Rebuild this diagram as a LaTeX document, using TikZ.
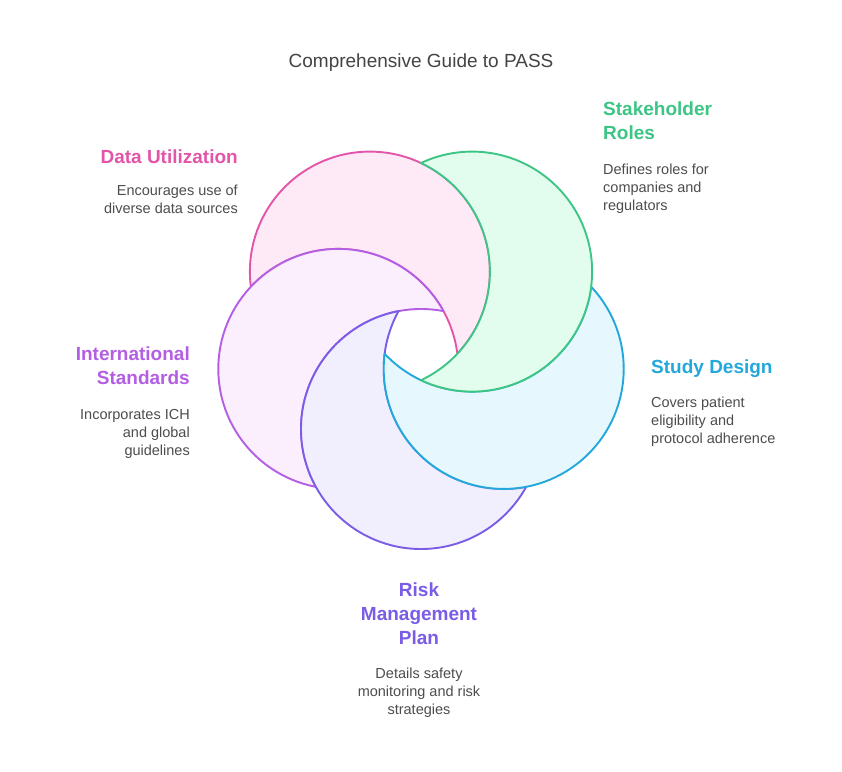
\documentclass[tikz,border=0pt]{standalone}
\usepackage{fontspec}
\setmainfont{Liberation Sans}
\definecolor{pinkline}{HTML}{E255A9}
\definecolor{pinkfill}{HTML}{FDEAF6}
\definecolor{greenline}{HTML}{3DC585}
\definecolor{greenfill}{HTML}{E2FCEE}
\definecolor{blueline}{HTML}{23A8DB}
\definecolor{bluefill}{HTML}{E6F7FD}
\definecolor{purpleline}{HTML}{7A5CE6}
\definecolor{purplefill}{HTML}{F1EFFD}
\definecolor{violetline}{HTML}{B45EE3}
\definecolor{violetfill}{HTML}{FBEEFD}
\definecolor{descgray}{HTML}{4D4D4D}
\definecolor{titlegray}{HTML}{444444}
% circle #1 minus circle #2, outlined in #3, filled with #4
\newcommand\drawcrescent[4]{%
  \begin{scope}[even odd rule]
    \clip (0,0) rectangle (842,771) (#2) circle[radius=120pt];
    \filldraw[fill=#4, draw=#3, line width=1.9pt] (#1) circle[radius=120pt];
  \end{scope}
  \begin{scope}
    \clip (#1) circle[radius=120pt];
    \draw[#3, line width=1.9pt] (#2) circle[radius=120pt];
  \end{scope}}
\begin{document}
\begin{tikzpicture}[x=1pt,y=-1pt,
    head/.style={inner sep=0pt, font=\fontsize{19}{24}\selectfont\bfseries},
    desc/.style={inner sep=0pt, text=descgray, font=\fontsize{14.5}{18}\selectfont}]
  \useasboundingbox[fill=white] (0,0) rectangle (842,771);

  \coordinate (pinkc) at (369.9,271.6);
  \coordinate (greenc) at (472.1,271.6);
  \coordinate (bluec) at (503.7,368.9);
  \coordinate (purplec) at (421,429);
  \coordinate (violetc) at (338.3,368.9);

  \drawcrescent{pinkc}{violetc}{pinkline}{pinkfill}
  \drawcrescent{violetc}{purplec}{violetline}{violetfill}
  \drawcrescent{purplec}{bluec}{purpleline}{purplefill}
  \drawcrescent{bluec}{greenc}{blueline}{bluefill}
  \drawcrescent{greenc}{pinkc}{greenline}{greenfill}

  \node[inner sep=0pt, anchor=north, text=titlegray, font=\fontsize{19}{24}\selectfont] (title) at (421,54) {Comprehensive Guide to PASS};

  \node[head, text=pinkline, anchor=north east, align=right] (datahead) at (238,150) {Data Utilization};
  \node[desc, anchor=north east, align=right] (datadesc) at (238,185) {Encourages use of\\diverse data sources};

  \node[head, text=greenline, anchor=north west, align=left] (stakehead) at (603,102) {Stakeholder\\Roles};
  \node[desc, anchor=north west, align=left] (stakedesc) at (603,164) {Defines roles for\\companies and\\regulators};

  \node[head, text=blueline, anchor=north west, align=left] (studyhead) at (651,360) {Study Design};
  \node[desc, anchor=north west, align=left] (studydesc) at (651,397) {Covers patient\\eligibility and\\protocol adherence};

  \node[head, text=violetline, anchor=north east, align=right] (inthead) at (190,347) {International\\Standards};
  \node[desc, anchor=north east, align=right] (intdesc) at (190,409) {Incorporates ICH\\and global\\guidelines};

  \node[head, text=purpleline, anchor=north, align=center] (riskhead) at (419,583) {Risk\\Management\\Plan};
  \node[desc, anchor=north, align=center] (riskdesc) at (419,668) {Details safety\\monitoring and risk\\strategies};
\end{tikzpicture}
\end{document}
